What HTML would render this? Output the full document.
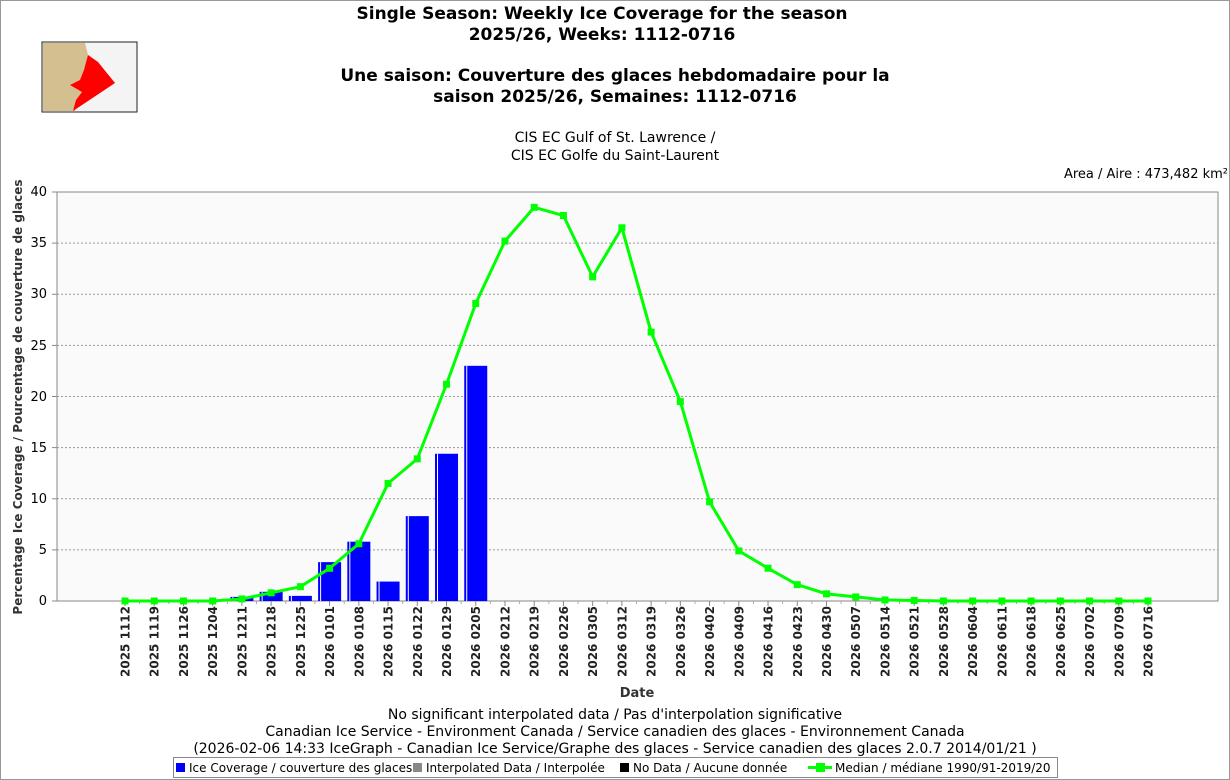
<!DOCTYPE html>
<html><head><meta charset="utf-8"><style>
body{margin:0;background:#fff;}
svg{display:block;font-family:"DejaVu Sans","Liberation Sans",sans-serif;}
</style></head><body>
<svg width="1230" height="780" xmlns="http://www.w3.org/2000/svg">
<rect x="0.5" y="0.5" width="1229" height="779" fill="#fff" stroke="#999"/>
<!-- logo -->
<rect x="42" y="42" width="95" height="70" fill="#f4f4f4" stroke="#222"/>
<path d="M43 43 L85 43 L88 55 L95 60 L100 75 L88 80 L80 95 L75 111 L43 111 Z" fill="#d3bf8f"/>
<path d="M88 55 L98 62 L115 83 L73 111 L76 100 L82 92 L70 85 L80 80 L84 70 Z" fill="#f00"/>
<g font-weight="bold" font-size="17" text-anchor="middle" fill="#000">
<text x="602" y="19">Single Season: Weekly Ice Coverage for the season</text>
<text x="602" y="40">2025/26, Weeks: 1112-0716</text>
<text x="615" y="81">Une saison: Couverture des glaces hebdomadaire pour la</text>
<text x="615" y="102">saison 2025/26, Semaines: 1112-0716</text>
</g>
<g font-size="14" text-anchor="middle">
<text x="615" y="142">CIS EC Gulf of St. Lawrence /</text>
<text x="615" y="160">CIS EC Golfe du Saint-Laurent</text>
</g>
<text x="1228" y="178" font-size="13" text-anchor="end">Area / Aire : 473,482 km²</text>
<rect x="57" y="192" width="1161" height="409" fill="#fafafa" stroke="#888"/>
<g stroke="#999" stroke-dasharray="2,2" stroke-width="1">
<line x1="57" x2="1218" y1="549.9" y2="549.9"/><line x1="57" x2="1218" y1="498.8" y2="498.8"/>
<line x1="57" x2="1218" y1="447.6" y2="447.6"/><line x1="57" x2="1218" y1="396.5" y2="396.5"/>
<line x1="57" x2="1218" y1="345.4" y2="345.4"/><line x1="57" x2="1218" y1="294.3" y2="294.3"/>
<line x1="57" x2="1218" y1="243.1" y2="243.1"/>
</g>
<g font-size="13" text-anchor="end">
<text x="47" y="605">0</text><text x="47" y="554">5</text><text x="47" y="503">10</text>
<text x="47" y="452">15</text><text x="47" y="401">20</text><text x="47" y="350">25</text>
<text x="47" y="298">30</text><text x="47" y="247">35</text><text x="47" y="196">40</text>
</g>
<g stroke="#888"><line x1="52" x2="57" y1="601" y2="601"/><line x1="52" x2="57" y1="549.9" y2="549.9"/><line x1="52" x2="57" y1="498.8" y2="498.8"/><line x1="52" x2="57" y1="447.6" y2="447.6"/><line x1="52" x2="57" y1="396.5" y2="396.5"/><line x1="52" x2="57" y1="345.4" y2="345.4"/><line x1="52" x2="57" y1="294.3" y2="294.3"/><line x1="52" x2="57" y1="243.1" y2="243.1"/><line x1="52" x2="57" y1="192" y2="192"/></g>
<text transform="translate(22,397) rotate(-90)" font-size="12" font-weight="bold" text-anchor="middle" fill="#333">Percentage Ice Coverage / Pourcentage de couverture de glaces</text>
<g id="chart"></g>
<text x="637" y="697" font-size="13" font-weight="bold" text-anchor="middle" fill="#333">Date</text>
<g font-size="14" text-anchor="middle">
<text x="615" y="719">No significant interpolated data / Pas d'interpolation significative</text>
<text x="615" y="736">Canadian Ice Service - Environment Canada / Service canadien des glaces - Environnement Canada</text>
<text x="615" y="753">(2026-02-06 14:33 IceGraph - Canadian Ice Service/Graphe des glaces - Service canadien des glaces 2.0.7 2014/01/21 )</text>
</g>
<rect x="173.5" y="757.5" width="884" height="20" fill="#fff" stroke="#888"/>
<g font-size="12">
<rect x="176" y="763" width="9" height="9" fill="#00f"/><text x="189" y="772">Ice Coverage / couverture des glaces</text>
<rect x="413" y="763" width="9" height="9" fill="#888"/><text x="426" y="772">Interpolated Data / Interpolée</text>
<rect x="620" y="763" width="9" height="9" fill="#000"/><text x="633" y="772">No Data / Aucune donnée</text>
<line x1="808" x2="832" y1="767.5" y2="767.5" stroke="#0f0" stroke-width="3"/><rect x="816" y="763" width="9" height="9" fill="#0f0"/>
<text x="835" y="772">Median / médiane 1990/91-2019/20</text>
</g>
</svg>
<script>
const g=document.getElementById('chart');
const labs=["2025 1112","2025 1119","2025 1126","2025 1204","2025 1211","2025 1218","2025 1225","2026 0101","2026 0108","2026 0115","2026 0122","2026 0129","2026 0205","2026 0212","2026 0219","2026 0226","2026 0305","2026 0312","2026 0319","2026 0326","2026 0402","2026 0409","2026 0416","2026 0423","2026 0430","2026 0507","2026 0514","2026 0521","2026 0528","2026 0604","2026 0611","2026 0618","2026 0625","2026 0702","2026 0709","2026 0716"];
const bars=[0,0,0,0,0.4,0.9,0.5,3.8,5.8,1.9,8.3,14.4,23.0];
const med=[0,0,0,0,0.2,0.8,1.4,3.2,5.6,11.5,13.9,21.2,29.1,35.2,38.5,37.7,31.7,36.5,26.3,19.5,9.7,4.9,3.2,1.6,0.7,0.4,0.1,0.05,0,0,0,0,0,0,0,0];
const X=i=>125+i*29.229, Y=v=>601-10.225*v;
let h='';
labs.forEach((l,i)=>{const x=X(i);h+=`<line x1="${x}" x2="${x}" y1="601" y2="606" stroke="#888"/>`;
h+=`<text transform="translate(${x+4.5},677) rotate(-90)" font-size="12" font-weight="bold" fill="#222">${l}</text>`;
if(i<labs.length-1){const m=x+14.6;h+=`<line x1="${m}" x2="${m}" y1="601" y2="604" stroke="#aaa"/>`;}});
bars.forEach((v,i)=>{if(v<=0)return;const x=X(i)-11.5,y=Y(v);h+=`<rect x="${x}" y="${y}" width="23" height="${601-y}" fill="#00f"/><line x1="${x+2.5}" x2="${x+2.5}" y1="${y}" y2="601" stroke="#fff" stroke-width="1"/>`;});
h+=`<polyline fill="none" stroke="#0f0" stroke-width="3" points="${med.map((v,i)=>X(i)+','+Y(v)).join(' ')}"/>`;
med.forEach((v,i)=>{h+=`<rect x="${X(i)-3.5}" y="${Y(v)-3.5}" width="7" height="7" fill="#0f0"/>`;});
g.innerHTML=h;
</script>
</body></html>
